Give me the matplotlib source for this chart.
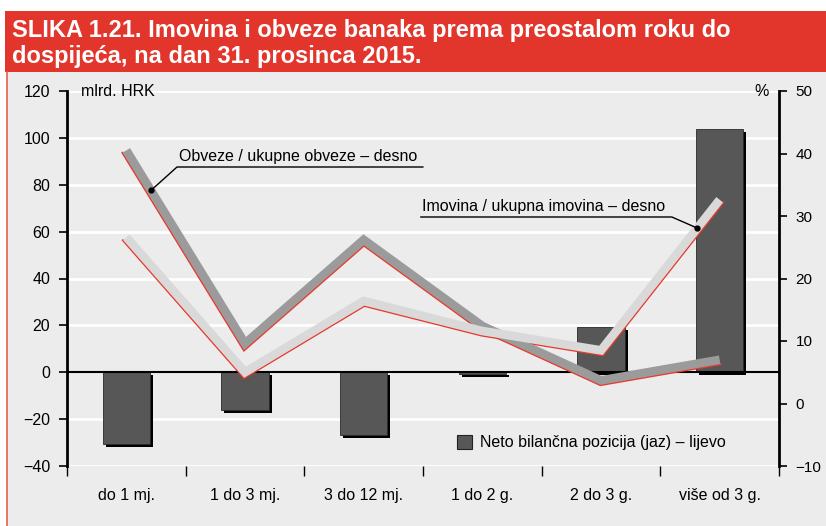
import matplotlib
matplotlib.use('Agg')
import matplotlib.pyplot as plt
import matplotlib.transforms as mtransforms
from matplotlib.patches import Rectangle
from matplotlib.lines import Line2D
import numpy as np

plt.rcParams['font.family'] = ['Liberation Sans', 'DejaVu Sans']

categories = ['do 1 mj.', '1 do 3 mj.', '3 do 12 mj.', '1 do 2 g.', '2 do 3 g.', 'više od 3 g.']
gap = [-30.5, -16.3, -26.8, -0.6, 19.3, 104.0]          # mlrd. HRK, left axis
obveze = [40.5, 9.6, 26.2, 12.4, 3.7, 7.0]               # %, right axis
imovina = [26.6, 5.0, 16.4, 11.6, 8.5, 32.6]             # %, right axis

title = 'SLIKA 1.21. Imovina i obveze banaka prema preostalom roku do\ndospijeća, na dan 31. prosinca 2015.'
bar_label = 'Neto bilančna pozicija (jaz) – lijevo'
obv_label = 'Obveze / ukupne obveze – desno'
imo_label = 'Imovina / ukupna imovina – desno'

FS = 11.5


def lower_edge(axis, xs, ys, dist):
    # polyline shifted perpendicular (towards the lower side) by dist pixels
    pts = axis.transData.transform(np.column_stack([xs, ys]))
    d = np.diff(pts, axis=0)
    d /= np.hypot(d[:, 0], d[:, 1])[:, None]
    normals = np.column_stack([d[:, 1], -d[:, 0]])
    out = []
    for i in range(len(pts)):
        if i == 0:
            n = normals[0]
        elif i == len(pts) - 1:
            n = normals[-1]
        else:
            n1, n2 = normals[i - 1], normals[i]
            n = (n1 + n2) / (1 + n1 @ n2)
        out.append(pts[i] + dist * n)
    return axis.transData.inverted().transform(np.array(out)).T


W, H = 826, 526
fig = plt.figure(figsize=(W / 100, H / 100), dpi=100)
fig.patch.set_facecolor('white')

# panel + title bar
fig.patches.append(Rectangle((7 / W, 0), 1, 1 - 72 / H, transform=fig.transFigure,
                             facecolor='#ececec', edgecolor='none', zorder=-10))
fig.lines.append(Line2D([7 / W, 7 / W], [0, 1 - 72 / H], transform=fig.transFigure,
                        color='#e2604f', lw=1.2, zorder=-9))
fig.patches.append(Rectangle((5 / W, 1 - 72 / H), 1, 61 / H, transform=fig.transFigure,
                             facecolor='#e2352b', edgecolor='none', zorder=-10))
fig.text(12 / W, 1 - 43.5 / H, title, color='white', fontsize=17, fontweight='bold',
         va='center', ha='left', linespacing=1.15)

ax = fig.add_axes([67 / W, 1 - 466 / H, 712 / W, 375 / H])
ax.set_facecolor('none')
ax2 = ax.twinx()
ax2.set_facecolor('none')

x = np.arange(len(categories))

# bars with drop shadow
shadow = mtransforms.offset_copy(ax.transData, fig=fig, x=3, y=-3, units='dots')
ax.bar(x, gap, width=0.4, color='black', transform=shadow, zorder=2)
ax.bar(x, gap, width=0.4, color='#575757', edgecolor='#2a2a2a', lw=0.6, zorder=3)

ax.set_ylim(-40, 120)
ax.set_xlim(-0.5, 5.5)
ax.set_yticks(np.arange(-40, 121, 20))
for v in np.arange(-40, 121, 20):
    if v != 0:
        ax.axhline(v, color='white', lw=2, zorder=1)
ax.axhline(0, color='black', lw=1.5, zorder=4)

ax.set_xticks(np.arange(-0.5, 6, 1))
ax.set_xticklabels([])
ax.set_xticks(x, minor=True)
ax.set_xticklabels(categories, minor=True)
ax.tick_params(axis='x', which='major', length=7, width=1, direction='out', color='black')
ax.tick_params(axis='x', which='minor', length=0, pad=16, labelsize=FS)
ax.tick_params(axis='y', length=6, width=1.2, labelsize=FS, pad=6)
ax.set_yticklabels(['\u221240' if v == -40 else '\u221220' if v == -20 else str(v)
                    for v in np.arange(-40, 121, 20)])

for a in (ax, ax2):
    a.spines['top'].set_visible(False)
    a.spines['bottom'].set_visible(False)
    a.spines['left'].set_visible(a is ax)
    a.spines['right'].set_visible(a is ax2)
ax.spines['left'].set_linewidth(2)
ax2.spines['right'].set_linewidth(2)

# lines on right axis with red edge along the lower side
ax2.set_ylim(-10, 50)
ax2.set_yticks(np.arange(-10, 51, 10))
ax2.set_yticklabels(['\u221210' if v == -10 else str(v) for v in np.arange(-10, 51, 10)])
ax2.tick_params(axis='y', length=6, width=1.2, labelsize=11, pad=6)

LW = 6.2  # points, ~8.6 px
for series, col in ((obveze, '#9b9b9b'), (imovina, '#d9d9d9')):
    rx, ry = lower_edge(ax2, x, series, 4.6)
    ax2.plot(rx, ry, color='#e8392c', lw=1.4, solid_joinstyle='miter', zorder=3)
    ax2.plot(x, series, color=col, lw=LW, solid_joinstyle='miter',
             solid_capstyle='butt', zorder=4)

# callouts
ax2.plot([0.208, 0.427, 2.499], [34.1, 37.84, 37.84], color='black', lw=1, zorder=6)
ax2.plot([0.208], [34.1], 'o', color='black', ms=3.5, zorder=6)
ax2.text(0.44, 38.4, obv_label, fontsize=FS, ha='left', va='bottom', zorder=6)
ax2.plot([2.482, 4.597, 4.807], [29.84, 29.84, 28.1], color='black', lw=1, zorder=6)
ax2.plot([4.807], [28.1], 'o', color='black', ms=3.5, zorder=6)
ax2.text(2.495, 30.4, imo_label, fontsize=FS, ha='left', va='bottom', zorder=6)

# axis units
ax.text(0.02, 1.0, 'mlrd. HRK', transform=ax.transAxes, fontsize=FS, ha='left', va='center')
ax2.text(0.985, 1.0, '%', transform=ax2.transAxes, fontsize=FS, ha='right', va='center')

handle = Rectangle((0, 0), 1, 1, facecolor='#575757', edgecolor='#222222', lw=0.8)
ax2.legend([handle], [bar_label], loc='center left', bbox_to_anchor=(0.548, 0.062),
           frameon=False, fontsize=FS, handlelength=0.95, handleheight=0.95,
           handletextpad=0.5, borderpad=0, borderaxespad=0)

fig.savefig('out.png', dpi=100, facecolor=fig.get_facecolor())
